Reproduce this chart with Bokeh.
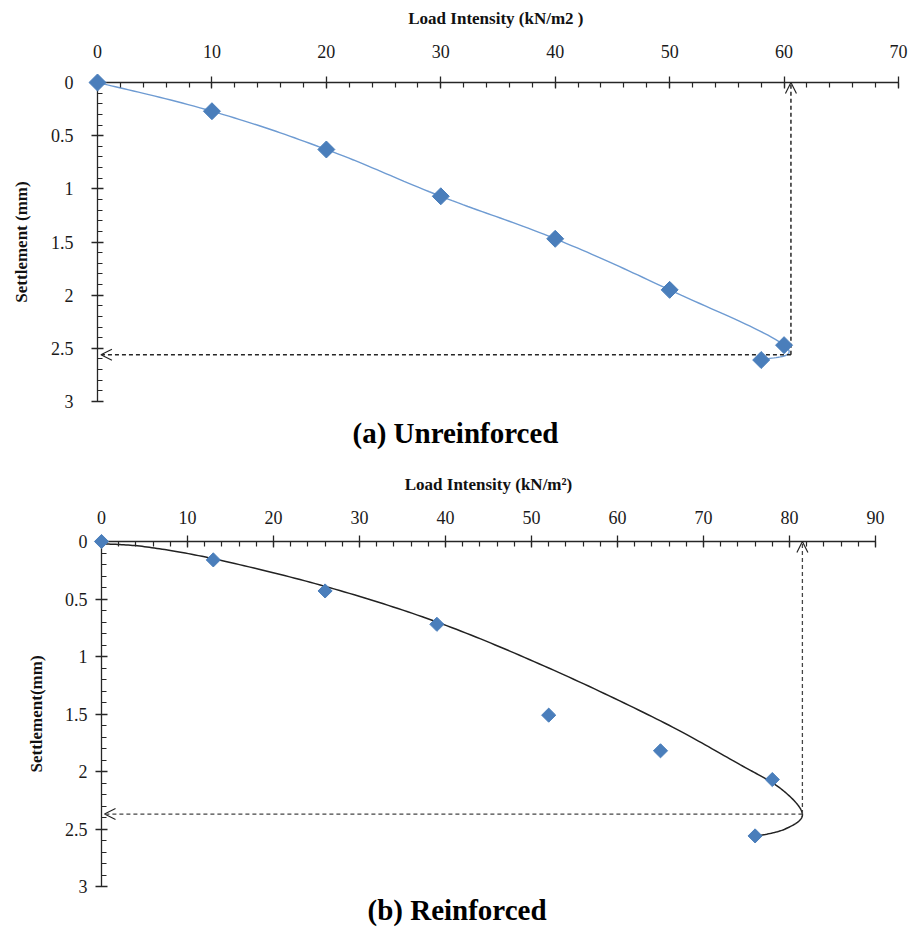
import numpy as np
from bokeh.plotting import figure
from bokeh.models import Range1d, FixedTicker, Arrow, OpenHead, NumeralTickFormatter
from bokeh.embed import file_html
from bokeh.resources import INLINE

# ---- (a) Unreinforced: load test readings ----
load_a = [0, 10, 20, 30, 40, 50, 60, 58]
settle_a = [0, 0.27, 0.63, 1.07, 1.47, 1.95, 2.47, 2.61]
ult_load_a = 60.6      # ultimate load intensity (kN/m2)
ult_settle_a = 2.56    # settlement at ultimate load (mm)

# ---- (b) Reinforced: load test readings ----
load_b = [0, 13, 26, 39, 52, 65, 78, 76]
settle_b = [0, 0.16, 0.43, 0.72, 1.51, 1.82, 2.07, 2.56]
# best-fit curve drawn through the reinforced readings
fit_load_b = [0, 5, 13, 26, 39, 52, 65, 74, 79, 81.5, 79.5, 76]
fit_settle_b = [0.02, 0.045, 0.15, 0.39, 0.70, 1.10, 1.56, 1.93, 2.15, 2.37, 2.50, 2.565]
ult_load_b = 81.5
ult_settle_b = 2.37

y_major = [0, 0.5, 1, 1.5, 2, 2.5, 3]
y_minor = [round(0.1 * i, 1) for i in range(31)]

SERIF = "Liberation Serif"
AXIS = "#262626"
BLUE = "#4A7EBB"


def smooth_curve(xs, ys, k=0.25, n=24):
    """Piecewise cubic Bezier through the given points (smoothed line)."""
    pts = np.column_stack([xs, ys]).astype(float)
    P = np.vstack([pts[0], pts, pts[-1]])
    out = []
    t = np.linspace(0, 1, n)[:, None]
    for i in range(1, len(P) - 2):
        p0, p1, p2, p3 = P[i - 1], P[i], P[i + 1], P[i + 2]
        c1 = p1 + (p2 - p0) * k
        c2 = p2 - (p3 - p1) * k
        seg = (1 - t) ** 3 * p1 + 3 * (1 - t) ** 2 * t * c1 + 3 * (1 - t) * t ** 2 * c2 + t ** 3 * p2
        out.append(seg if i == 1 else seg[1:])
    s = np.vstack(out)
    return s[:, 0], s[:, 1]


def make_panel(height, xmax, borders, xlabel, ylabel, caption, caption_offset,
               caption_standoff, ylabel_standoff, ytick_standoff, xtick_standoff, xlabel_standoff):
    left, right, top, bottom = borders
    p = figure(width=911, height=height,
               x_range=Range1d(0, xmax), y_range=Range1d(3, 0),
               x_axis_location="above", output_backend="svg", toolbar_location=None,
               min_border_left=left, min_border_right=right,
               min_border_top=top, min_border_bottom=bottom,
               title=caption, title_location="below")
    p.outline_line_color = None
    p.grid.visible = False
    p.background_fill_color = "white"
    p.border_fill_color = "white"

    p.xaxis.ticker = FixedTicker(ticks=list(range(0, xmax + 1, 10)),
                                 minor_ticks=list(range(0, xmax + 1, 2)))
    p.yaxis.ticker = FixedTicker(ticks=y_major, minor_ticks=y_minor)
    p.yaxis.formatter = NumeralTickFormatter(format="0.[0]")
    p.xaxis.formatter = NumeralTickFormatter(format="0")

    for ax in (p.xaxis[0], p.yaxis[0]):
        ax.axis_line_color = AXIS
        ax.axis_line_width = 1.3
        ax.major_tick_line_color = AXIS
        ax.major_tick_line_width = 1.3
        ax.minor_tick_line_color = AXIS
        ax.minor_tick_line_width = 1.2
        ax.major_tick_in = 6
        ax.major_tick_out = 6
        ax.minor_tick_in = 5
        ax.minor_tick_out = 0
        ax.major_label_text_font = SERIF
        ax.major_label_text_font_size = "18px"
        ax.major_label_text_color = "#1a1a1a"
        ax.axis_label_text_font = SERIF
        ax.axis_label_text_font_style = "bold"
        ax.axis_label_text_font_size = "17px"
        ax.axis_label_text_color = "#111111"

    p.xaxis.axis_label = xlabel
    p.xaxis.major_label_standoff = xtick_standoff
    p.xaxis.axis_label_standoff = xlabel_standoff
    p.yaxis.axis_label = ylabel
    p.yaxis.major_label_standoff = ytick_standoff
    p.yaxis.axis_label_standoff = ylabel_standoff

    p.title.align = "left"
    p.title.offset = caption_offset
    p.title.text_font = SERIF
    p.title.text_font_style = "bold"
    p.title.text_font_size = "29px"
    p.title.text_color = "#000000"
    p.title.standoff = caption_standoff
    return p


# ---------- (a) Unreinforced ----------
pa = make_panel(463, 70, (97, 13, 82, 62), "Load Intensity  (kN/m2 )", "Settlement (mm)",
                "(a) Unreinforced", 255, 27, 17, 18, 19, 14)
cx, cy = smooth_curve(load_a, settle_a, k=0.2)
pa.line(cx, cy, line_color="#6E9BD2", line_width=1.4)
ra = pa.scatter(load_a, settle_a, marker="square", angle=np.pi / 4, size=12,
                fill_color=BLUE, line_color=BLUE)
ra.level = "overlay"
for xs, ys, xe, ye in [(ult_load_a, ult_settle_a, 0.3, ult_settle_a),
                       (ult_load_a, ult_settle_a, ult_load_a, 0.0)]:
    pa.add_layout(Arrow(end=OpenHead(size=11, line_color=AXIS, line_width=1.2),
                        x_start=xs, y_start=ys, x_end=xe, y_end=ye,
                        line_color=AXIS, line_width=1.5, line_dash="4 3"))

# ---------- (b) Reinforced ----------
pb = make_panel(468, 90, (101, 36, 78, 43), "Load Intensity (kN/m\u00b2)", "Settlement(mm)",
                "(b) Reinforced", 266, 11, 16, 8, 12, 14)
fx, fy = smooth_curve(fit_load_b, fit_settle_b, k=1 / 6)
pb.line(fx, fy, line_color="#222222", line_width=1.5)
rb = pb.scatter(load_b, settle_b, marker="square", angle=np.pi / 4, size=10,
                fill_color=BLUE, line_color=BLUE)
rb.level = "overlay"
for xs, ys, xe, ye in [(ult_load_b, ult_settle_b, 0.35, ult_settle_b),
                       (ult_load_b, ult_settle_b, ult_load_b, 0.0)]:
    pb.add_layout(Arrow(end=OpenHead(size=11, line_color=AXIS, line_width=1.2),
                        x_start=xs, y_start=ys, x_end=xe, y_end=ye,
                        line_color="#444444", line_width=1.3, line_dash="4 3"))

# the two panels are independent roots, stacked one above the other
open("out.html", "w").write(file_html([pa, pb], INLINE))
